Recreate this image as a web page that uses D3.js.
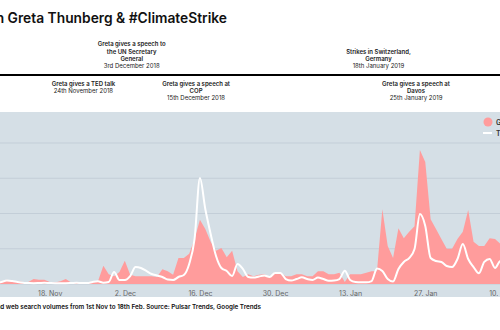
<!DOCTYPE html>
<html lang="en">
  <head>
    <meta charset="UTF-8" />
    <title>Greta Thunberg &amp; #ClimateStrike</title>
    <script src="https://cdn.jsdelivr.net/npm/d3@7"></script>
    <style>
      body { margin: 0; background: #fff; }
      svg { display: block; font-family: Inter, "Noto Sans", sans-serif; }
    </style>
  </head>
  <body>
    <div id="chart"></div>

    <script>
      // daily series, 1 Nov 2018 -> 18 Feb 2019
      const firstDay = "2018-11-01";

      // social conversation volume (thousands of posts)
      const socialVolume = [
        0.4, 0.3, 0.4, 0.6, 0.3, 0.4, 0.3, 0.4, 0.4, 0.6,
        0.4, 0.4, 0.3, 0.3, 0.7, 0.6, 0.6, 0.3, 0.2, 0.4,
        0.7, 0.2, 0.3, 0.2, 0.2, 0.3, 0.4, 2.6, 1.4, 1.1,
        1.7, 3.3, 1.3, 1.1, 1.1, 1.1, 1.1, 1.0, 2.1, 1.8,
        1.3, 3.7, 3.7, 4.3, 6.4, 9.1, 7.8, 6.0, 4.7, 5.1,
        3.8, 4.7, 1.8, 1.0, 1.4, 1.1, 1.3, 1.4, 1.0, 1.7,
        1.6, 1.1, 1.1, 1.4, 1.4, 1.1, 1.1, 1.8, 1.8, 1.4,
        1.4, 1.6, 0.3, 1.4, 1.4, 1.4, 1.6, 1.8, 1.8, 10.6,
        5.4, 3.7, 7.9, 6.5, 7.4, 8.2, 19.0, 17.3, 9.2, 7.8,
        6.4, 5.0, 5.0, 6.4, 7.4, 10.5, 6.0, 5.4, 5.4, 6.5,
        6.4, 5.7, 6.0, 5.4, 5.0, 5.7, 4.3, 4.0, 5.0, 4.3,
      ];

      // Google Trends web search interest (0-100)
      const searchIndex = [
        1.5, 1.2, 1.8, 1.2, 1.0, 1.3, 1.6, 1.4, 1.9, 3.3,
        2.8, 1.9, 1.2, 0.9, 0.7, 0.9, 1.2, 0.9, 0.7, 0.7,
        0.7, 0.9, 1.2, 0.9, 0.9, 1.9, 2.5, 1.2, 1.9, 11.3,
        3.8, 3.8, 7.5, 16, 15.1, 12.3, 9.4, 8.0, 6.6, 4.2,
        3.8, 6.6, 8.5, 18.9, 42.5, 100, 70.8, 47.2, 26.4, 15.1,
        12.3, 7.5, 18.9, 14.2, 6.6, 6.1, 7.1, 8.0, 6.6, 10.4,
        10.4, 4.7, 3.3, 4.7, 6.3, 4.7, 3.8, 6.1, 4.7, 3.1,
        3.3, 4.7, 12.5, 3.8, 1.9, 1.6, 1.6, 2.8, 14.6, 12.3,
        4.7, 2.4, 14.2, 20.8, 24.5, 33, 66, 54.7, 24.5, 21.7,
        20.8, 17, 16, 23.6, 37.7, 23.6, 16, 10.1, 20.8, 23.6,
        15.1, 21.7, 18.9, 17, 14.2, 18.9, 17, 13.2, 11.3, 14.2,
      ];

      const tickDays = [
        "2018-11-18", "2018-12-02", "2018-12-16", "2018-12-30",
        "2019-01-13", "2019-01-27", "2019-02-10",
      ];
      const gridValues = [0, 5, 10, 15, 20];

      const seriesNames = ["Greta Thunberg & #ClimateStrike", "Trends web searches"];

      const eventsAbove = [
        { date: "2018-12-03", lines: ["Greta gives a speech to", "the UN Secretary", "General"], when: "3rd December 2018" },
        { date: "2019-01-18", lines: ["Strikes in Switzerland,", "Germany"], when: "18th January 2019" },
      ];
      const eventsBelow = [
        { date: "2018-11-24", lines: ["Greta gives a TED talk"], when: "24th November 2018" },
        { date: "2018-12-15", lines: ["Greta gives a speech at", "COP"], when: "15th December 2018" },
        { date: "2019-01-25", lines: ["Greta gives a speech at", "Davos"], when: "25th January 2019" },
      ];

      const title = "Conversation on Greta Thunberg & #ClimateStrike";
      const caption = "Social conversation and web search volumes from 1st Nov to 18th Feb. Source: Pulsar Trends, Google Trends";

      const W = 500, H = 330;
      const parse = d3.timeParse("%Y-%m-%d");
      const start = parse(firstDay);

      const data = socialVolume.map((v, i) => ({
        date: d3.timeDay.offset(start, i),
        social: v,
        search: searchIndex[i],
      }));

      const svg = d3.select("#chart").append("svg")
        .attr("width", W).attr("height", H);

      // the chart is wider than the window: it spills out on both sides
      const x = d3.scaleTime()
        .domain(d3.extent(data, (d) => d.date))
        .range([-41.5, 543.3]);
      const y = d3.scaleLinear().domain([0, 24.4]).range([284, 112]);
      const ySearch = d3.scaleLinear().domain([0, 100]).range([284, 178]);

      // title
      svg.append("text")
        .attr("x", 227).attr("y", 23)
        .attr("text-anchor", "end")
        .attr("font-size", 13.8).attr("font-weight", 600)
        .attr("fill", "#111")
        .text(title);

      // timeline
      const lineY = 75;
      svg.append("line")
        .attr("x1", 0).attr("x2", W)
        .attr("y1", lineY).attr("y2", lineY)
        .attr("stroke", "#000").attr("stroke-width", 2.2);

      function drawEvent(ev, above) {
        const cx = x(parse(ev.date)) + 1.5;
        const rows = ev.lines.map((t) => ({ t, bold: true }))
          .concat([{ t: ev.when, bold: false }]);
        const step = 7.2;
        const y0 = above ? 68 - (rows.length - 1) * step : 85.5;
        const g = svg.append("g").attr("text-anchor", "middle");
        rows.forEach((r, i) => {
          g.append("text")
            .attr("x", cx).attr("y", y0 + i * step)
            .attr("font-size", 6)
            .attr("font-weight", r.bold ? 600 : 400)
            .attr("fill", "#222")
            .text(r.t);
        });
      }
      eventsAbove.forEach((e) => drawEvent(e, true));
      eventsBelow.forEach((e) => drawEvent(e, false));

      // plot background
      svg.append("rect")
        .attr("x", 0).attr("y", 112)
        .attr("width", W).attr("height", 185)
        .attr("fill", "#d5dfe6");

      // grid
      svg.append("g")
        .selectAll("line")
        .data(gridValues)
        .join("line")
        .attr("x1", 0).attr("x2", W)
        .attr("y1", (d) => y(d)).attr("y2", (d) => y(d))
        .attr("stroke", "#c3ced8").attr("stroke-width", 1);

      // social volume area
      const area = d3.area()
        .x((d) => x(d.date))
        .y0(y(0))
        .y1((d) => y(d.social));
      svg.append("path")
        .datum(data)
        .attr("d", area)
        .attr("fill", "#ff9c9c");

      // web search line
      const line = d3.line()
        .x((d) => x(d.date))
        .y((d) => ySearch(d.search))
        .curve(d3.curveMonotoneX);
      svg.append("path")
        .datum(data)
        .attr("d", line)
        .attr("fill", "none")
        .attr("stroke", "#fff")
        .attr("stroke-width", 2);

      // x axis
      const xAxis = svg.append("g")
        .attr("transform", "translate(0,284)")
        .call(d3.axisBottom(x)
          .tickValues(tickDays.map(parse))
          .tickFormat(d3.timeFormat("%-d. %b"))
          .tickSize(0)
          .tickPadding(7));
      xAxis.select(".domain").remove();
      xAxis.selectAll("text")
        .attr("font-size", 7)
        .attr("font-family", "Inter, sans-serif")
        .attr("fill", "#666");

      // legend
      const legend = svg.append("g").attr("font-size", 7).attr("fill", "#333");
      legend.append("circle")
        .attr("cx", 488).attr("cy", 122).attr("r", 4.5)
        .attr("fill", "#ff9c9c");
      legend.append("text")
        .attr("x", 496).attr("y", 124.5).attr("font-weight", 600)
        .text(seriesNames[0]);
      legend.append("line")
        .attr("x1", 483).attr("x2", 492)
        .attr("y1", 133).attr("y2", 133)
        .attr("stroke", "#fff").attr("stroke-width", 2);
      legend.append("text")
        .attr("x", 496).attr("y", 135.5).attr("font-weight", 600)
        .text(seriesNames[1]);

      // caption
      svg.append("text")
        .attr("x", 261).attr("y", 309)
        .attr("text-anchor", "end")
        .attr("font-size", 6.3).attr("font-weight", 600)
        .attr("fill", "#111")
        .text(caption);
    </script>
  </body>
</html>
